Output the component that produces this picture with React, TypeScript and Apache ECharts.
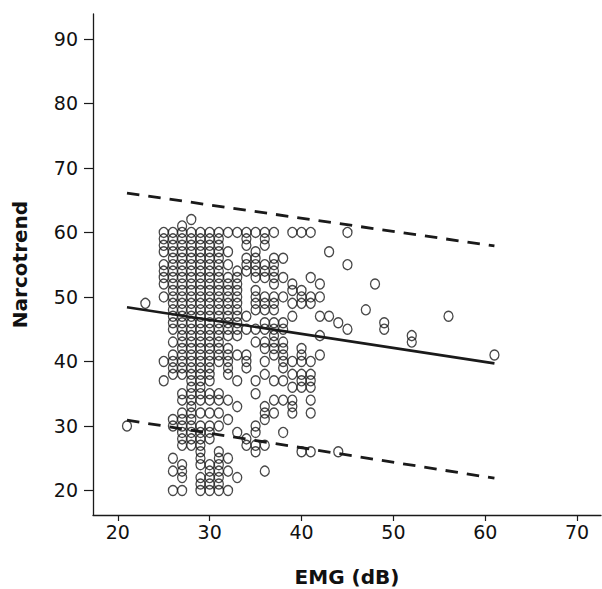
import React, { useEffect, useRef } from "react";
import * as echarts from "echarts";

// EMG (dB) levels and the Narcotrend values observed at each level
const emgLevels = [21, 23, 25, 26, 27, 28, 29, 30, 31, 32, 33, 34, 35, 36, 37, 38, 39, 40, 41, 42, 43, 44, 45, 47, 48, 49, 52, 56, 61];
const narcotrendByLevel = [
  [30],
  [49],
  [60, 59, 58, 57, 55, 54, 53, 52, 50, 40, 37],
  [60, 59, 58, 57, 56, 55, 54, 53, 52, 51, 50, 49, 48, 47, 46, 45, 43, 41, 40, 39, 38, 31, 30, 25, 23, 20],
  [61, 60, 59, 58, 57, 56, 55, 54, 53, 52, 51, 50, 49, 48, 47, 46, 45, 44, 43, 42, 41, 40, 39, 38, 35, 34, 32, 31, 30, 29, 28, 27, 24, 23, 22, 20],
  [62, 60, 59, 58, 57, 56, 55, 54, 53, 52, 51, 50, 49, 48, 47, 46, 45, 44, 43, 42, 41, 40, 39, 38, 37, 36, 35, 34, 33, 32, 31, 30, 29, 28, 27],
  [60, 59, 58, 57, 56, 55, 54, 53, 52, 51, 50, 49, 48, 47, 46, 45, 44, 43, 42, 41, 40, 39, 38, 37, 36, 35, 34, 32, 30, 29, 28, 27, 26, 25, 24, 22, 21, 20],
  [60, 59, 58, 57, 56, 55, 54, 53, 52, 51, 50, 49, 48, 47, 46, 45, 44, 43, 42, 41, 40, 39, 38, 37, 35, 34, 32, 30, 29, 28, 24, 23, 22, 21, 20],
  [60, 59, 58, 57, 56, 55, 54, 53, 52, 51, 50, 49, 48, 47, 46, 45, 44, 43, 42, 41, 40, 35, 34, 32, 30, 26, 25, 24, 23, 22, 21, 20],
  [60, 57, 55, 53, 52, 51, 50, 49, 48, 47, 46, 45, 44, 42, 41, 40, 39, 38, 34, 31, 25, 23, 20],
  [60, 54, 53, 52, 51, 50, 49, 48, 47, 46, 45, 44, 41, 37, 33, 29, 22],
  [60, 59, 58, 56, 55, 54, 47, 45, 41, 40, 39, 28, 27],
  [60, 57, 56, 55, 54, 53, 51, 50, 49, 48, 45, 43, 37, 35, 30, 29, 27, 26],
  [60, 59, 58, 55, 54, 53, 50, 49, 48, 46, 45, 43, 42, 40, 38, 33, 32, 31, 27, 23],
  [60, 56, 55, 54, 53, 52, 50, 49, 48, 46, 45, 44, 43, 42, 41, 37, 34, 32],
  [56, 53, 50, 46, 45, 43, 42, 41, 40, 39, 37, 34, 29],
  [60, 52, 51, 49, 47, 40, 38, 36, 34, 33, 32],
  [60, 51, 50, 49, 42, 41, 40, 38, 37, 36, 26],
  [60, 53, 50, 49, 40, 38, 37, 36, 34, 32, 26],
  [52, 50, 47, 44, 41],
  [57, 47],
  [46, 26],
  [60, 55, 45],
  [48],
  [52],
  [46, 45],
  [44, 43],
  [47],
  [41],
];

// Regression line and prediction limits (endpoints)
const fitX = [21, 61];
const fitY = [48.4, 39.7];
const upperY = [66.1, 57.9];
const lowerY = [30.9, 21.9];

const xTicks = [20, 30, 40, 50, 60, 70];
const yTicks = [20, 30, 40, 50, 60, 70, 80, 90];

export default function App() {
  const ref = useRef<HTMLDivElement>(null);
  useEffect(() => {
    if (!ref.current) return;
    const chart = echarts.init(ref.current, undefined, { renderer: "svg" });
    const points: number[][] = [];
    emgLevels.forEach((x, i) => {
      narcotrendByLevel[i].forEach((y) => points.push([x, y]));
    });
    const ink = "#1a1a1a";
    const font = "'DejaVu Sans', sans-serif";
    chart.setOption({
      animation: false,
      backgroundColor: "#ffffff",
      grid: { left: 93, right: 1, top: 14, bottom: 74, containLabel: false, outerBoundsMode: "none" },
      xAxis: {
        type: "value",
        min: 17.3,
        max: 72.6,
        name: "EMG (dB)",
        nameLocation: "middle",
        nameGap: 52,
        nameTextStyle: { fontFamily: font, fontWeight: "bold", fontSize: 20, color: "#111" },
        axisLine: { show: true, lineStyle: { color: ink, width: 1.3 } },
        axisTick: { show: true, length: 6, customValues: xTicks, lineStyle: { color: ink, width: 1.2 } },
        axisLabel: { customValues: xTicks, fontFamily: font, fontSize: 19, color: "#111", margin: 7 },
        splitLine: { show: false },
      },
      yAxis: {
        type: "value",
        min: 16.2,
        max: 93.85,
        name: "Narcotrend",
        nameLocation: "middle",
        nameGap: 63,
        nameTextStyle: { fontFamily: font, fontWeight: "bold", fontSize: 20, color: "#111" },
        axisLine: { show: true, lineStyle: { color: ink, width: 1.3 } },
        axisTick: { show: true, length: 9, customValues: yTicks, lineStyle: { color: ink, width: 1.2 } },
        axisLabel: { customValues: yTicks, fontFamily: font, fontSize: 19, color: "#111", margin: 15 },
        splitLine: { show: false },
      },
      series: [
        {
          type: "scatter",
          data: points,
          symbol: "circle",
          symbolSize: [9, 10],
          itemStyle: { color: "rgba(0,0,0,0)", borderColor: ink, borderWidth: 1.35 },
          z: 2,
        },
        {
          type: "line",
          data: fitX.map((x, i) => [x, fitY[i]]),
          symbol: "none",
          lineStyle: { color: ink, width: 2.6 },
          z: 3,
        },
        {
          type: "line",
          data: fitX.map((x, i) => [x, upperY[i]]),
          symbol: "none",
          lineStyle: { color: ink, width: 2.8, type: [12.5, 9] },
          z: 3,
        },
        {
          type: "line",
          data: fitX.map((x, i) => [x, lowerY[i]]),
          symbol: "none",
          lineStyle: { color: ink, width: 2.8, type: [12.5, 9] },
          z: 3,
        },
      ],
    });
    return () => chart.dispose();
  }, []);
  return (
    <div
      ref={ref}
      style={{ position: "absolute", left: 0, top: 0, width: 602, height: 589 }}
    />
  );
}
